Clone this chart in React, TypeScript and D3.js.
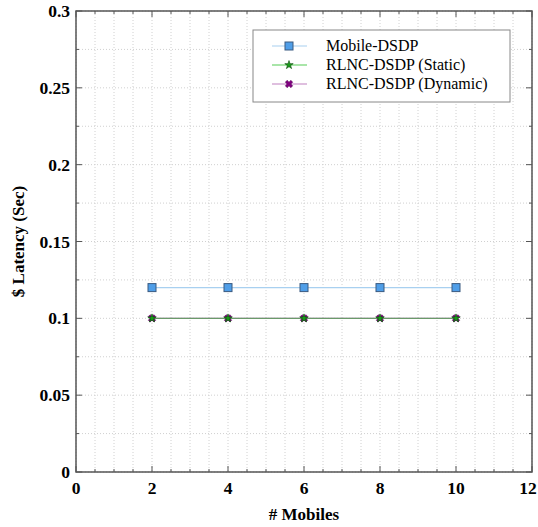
import React from "react";
import * as d3 from "d3";

const mobiles = [2, 4, 6, 8, 10];
const mobileDSDP = [0.12, 0.12, 0.12, 0.12, 0.12];
const rlncStatic = [0.1, 0.1, 0.1, 0.1, 0.1];
const rlncDynamic = [0.1, 0.1, 0.1, 0.1, 0.1];
const xTicks = [0, 2, 4, 6, 8, 10, 12];
const yTicks = [0, 0.05, 0.1, 0.15, 0.2, 0.25, 0.3];
const seriesNames = ["Mobile-DSDP", "RLNC-DSDP (Static)", "RLNC-DSDP (Dynamic)"];

const W = 538, H = 527;
const L = 76, R = 532, T = 11, B = 472;
const font = "'Liberation Serif', 'Times New Roman', serif";

export default function App() {
  const x = d3.scaleLinear().domain([0, 12]).range([L, R]);
  const y = d3.scaleLinear().domain([0, 0.3]).range([B, T]);
  const xMinor = d3.range(0, 12.001, 0.5);
  const yMinor = d3.range(0, 0.3001, 0.025);
  const line = d3.line<[number, number]>().x(d => x(d[0])).y(d => y(d[1]));
  const pts = (vals: number[]) => mobiles.map((m, i) => [m, vals[i]] as [number, number]);
  const star = d3.symbol().type(d3.symbolStar).size(22)() as string;
  const cross = d3.symbol().type(d3.symbolCross).size(34)() as string;

  const lx = 253, ly = 30, lw = 257, lh = 72;
  const legendRows = [
    { name: seriesNames[0], color: "#a8d0f0", kind: "sq" },
    { name: seriesNames[1], color: "#55cc55", kind: "star" },
    { name: seriesNames[2], color: "#c080c0", kind: "x" },
  ];

  const marker = (kind: string, cx: number, cy: number, key: any) => {
    if (kind === "sq")
      return <rect key={key} x={cx - 4} y={cy - 4} width={8} height={8} fill="#4f9ee8" stroke="#3a5a80" strokeWidth={1} />;
    if (kind === "star")
      return <path key={key} d={star} transform={`translate(${cx},${cy})`} fill="#1a9a1a" stroke="#0a4a0a" strokeWidth={0.6} />;
    return <path key={key} d={cross} transform={`translate(${cx},${cy}) rotate(45)`} fill="#800080" stroke="#500050" strokeWidth={0.5} />;
  };

  return (
    <svg width={W} height={H} style={{ position: "absolute", left: 0, top: 0, background: "#fff" }}>
      {xMinor.map((v, i) => (
        <line key={"gx" + i} x1={x(v)} x2={x(v)} y1={T} y2={B} stroke="#d0d0d0" strokeWidth={1} strokeDasharray="1,2" />
      ))}
      {yMinor.map((v, i) => (
        <line key={"gy" + i} x1={L} x2={R} y1={y(v)} y2={y(v)} stroke="#d0d0d0" strokeWidth={1} strokeDasharray="1,2" />
      ))}
      {xMinor.map((v, i) => (
        <g key={"tx" + i}>
          <line x1={x(v)} x2={x(v)} y1={B} y2={B - (v % 2 === 0 ? 6 : 3)} stroke="#555" strokeWidth={1} />
          <line x1={x(v)} x2={x(v)} y1={T} y2={T + (v % 2 === 0 ? 6 : 3)} stroke="#555" strokeWidth={1} />
        </g>
      ))}
      {yMinor.map((v, i) => {
        const major = Math.abs((v / 0.05) - Math.round(v / 0.05)) < 1e-6;
        return (
          <g key={"ty" + i}>
            <line x1={L} x2={L + (major ? 6 : 3)} y1={y(v)} y2={y(v)} stroke="#555" strokeWidth={1} />
            <line x1={R} x2={R - (major ? 6 : 3)} y1={y(v)} y2={y(v)} stroke="#555" strokeWidth={1} />
          </g>
        );
      })}
      <path d={line(pts(mobileDSDP)) as string} fill="none" stroke="#a8d0f0" strokeWidth={1.2} />
      <path d={line(pts(rlncDynamic)) as string} fill="none" stroke="#c080c0" strokeWidth={1.2} />
      <path d={line(pts(rlncStatic)) as string} fill="none" stroke="#6a9a6a" strokeWidth={1.4} />
      {mobiles.map((m, i) => marker("sq", x(m), y(mobileDSDP[i]), "a" + i))}
      {mobiles.map((m, i) => marker("x", x(m), y(rlncDynamic[i]), "c" + i))}
      {mobiles.map((m, i) => marker("star", x(m), y(rlncStatic[i]), "b" + i))}
      <rect x={L} y={T} width={R - L} height={B - T} fill="none" stroke="#555" strokeWidth={1.5} />
      {xTicks.map(v => (
        <text key={"xl" + v} x={Math.min(x(v), W - 10)} y={B + 22} textAnchor="middle" fontFamily={font} fontWeight="bold" fontSize={17.5}>{v}</text>
      ))}
      {yTicks.map(v => (
        <text key={"yl" + v} x={L - 6} y={y(v) + 6} textAnchor="end" fontFamily={font} fontWeight="bold" fontSize={17.5}>{v}</text>
      ))}
      <text x={(L + R) / 2} y={520} textAnchor="middle" fontFamily={font} fontWeight="bold" fontSize={17}># Mobiles</text>
      <text transform={`translate(24,${(T + B) / 2}) rotate(-90)`} textAnchor="middle" fontFamily={font} fontWeight="bold" fontSize={17}>$ Latency (Sec)</text>
      <rect x={lx} y={ly} width={lw} height={lh} fill="#fff" stroke="#888" strokeWidth={1} />
      {legendRows.map((r, i) => {
        const cy = ly + 16 + i * 19;
        return (
          <g key={"lg" + i}>
            <line x1={lx + 19} x2={lx + 54} y1={cy} y2={cy} stroke={r.color} strokeWidth={1.2} />
            {marker(r.kind, lx + 36, cy, "lm" + i)}
            <text x={lx + 73} y={cy + 5} fontFamily={font} fontSize={16}>{r.name}</text>
          </g>
        );
      })}
    </svg>
  );
}
